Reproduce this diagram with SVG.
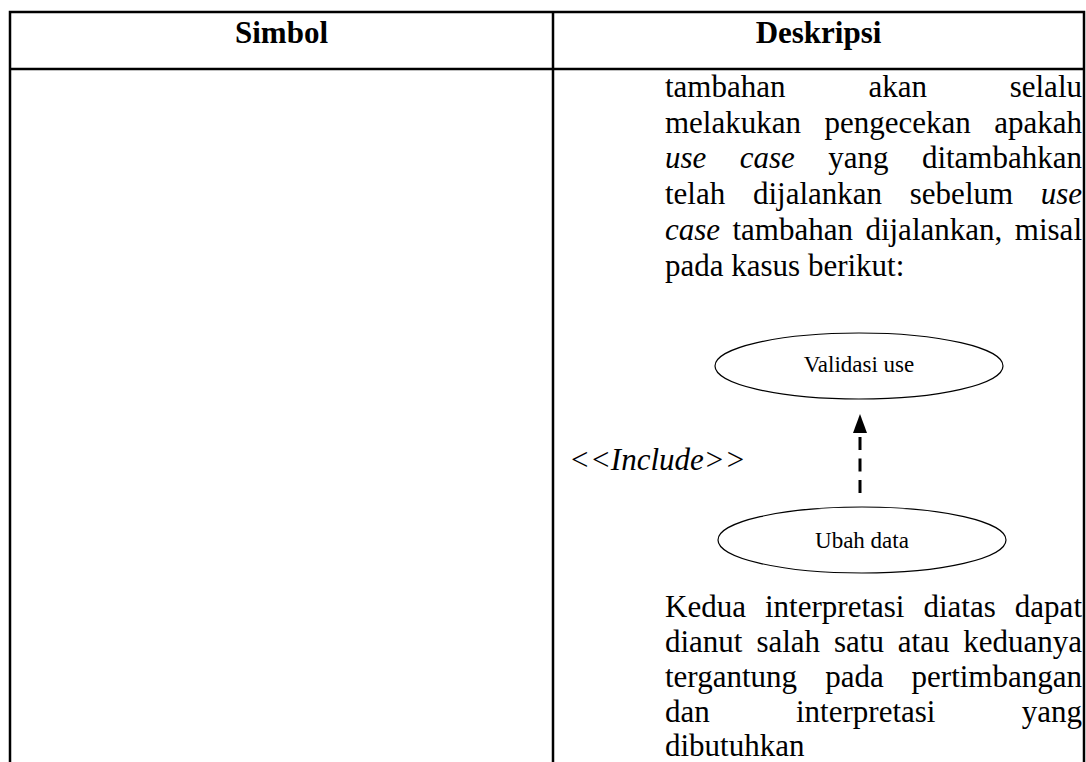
<svg xmlns="http://www.w3.org/2000/svg" width="1086" height="762" viewBox="0 0 1086 762">
<style>
.t{font-family:"Liberation Serif","Times New Roman",serif;font-size:31px;fill:#000}
.i{font-style:italic}
.e{text-anchor:end}
.h{font-weight:bold;text-anchor:middle}
.s{font-family:"Liberation Serif","Times New Roman",serif;font-size:23px;fill:#000;text-anchor:middle}
.b{stroke:#000;stroke-width:2.5;fill:none}
.el{fill:#fff;stroke:#000;stroke-width:1.2}
</style>
<rect width="1086" height="762" fill="#fff"/>
<g id="table">
<path class="b" d="M10 762 V12 H1084 V762 M10 69 H1084 M553 12 V762"/>
<text class="t h" x="281.5" y="43">Simbol</text>
<text class="t h" x="818.5" y="43">Deskripsi</text>
</g>
<g id="desc-top">
<text class="t" x="665" y="97">tambahan</text>
<text class="t" x="868.4" y="97">akan</text>
<text class="t e" x="1082" y="97">selalu</text>
<text class="t" x="665" y="132.7">melakukan</text>
<text class="t" x="824.5" y="132.7">pengecekan</text>
<text class="t e" x="1082" y="132.7">apakah</text>
<text class="t i" x="665" y="168.4">use</text>
<text class="t i" x="739.7" y="168.4">case</text>
<text class="t" x="828.2" y="168.4">yang</text>
<text class="t e" x="1082" y="168.4">ditambahkan</text>
<text class="t" x="665" y="204.1">telah</text>
<text class="t" x="753" y="204.1">dijalankan</text>
<text class="t" x="909.8" y="204.1">sebelum</text>
<text class="t i e" x="1082" y="204.1">use</text>
<text class="t i" x="665" y="239.8">case</text>
<text class="t" x="732.5" y="239.8">tambahan</text>
<text class="t" x="865.4" y="239.8">dijalankan,</text>
<text class="t e" x="1082" y="239.8">misal</text>
<text class="t" x="665" y="275.5">pada kasus berikut:</text>
</g>
<g id="validasi-use">
<ellipse class="el" cx="859" cy="366" rx="144" ry="33"/>
<text class="s" x="859" y="372">Validasi use</text>
</g>
<g id="ubah-data">
<ellipse class="el" cx="862" cy="540" rx="144" ry="33"/>
<text class="s" x="862" y="548">Ubah data</text>
</g>
<g id="connectors">
<line x1="860" y1="493" x2="860" y2="432" stroke="#000" stroke-width="3" stroke-dasharray="13 8.5"/>
<path d="M860 414 L867 433 L853 433 Z" fill="#000"/>
<text class="t i" x="569" y="470">&lt;&lt;Include&gt;&gt;</text>
</g>
<g id="desc-bottom">
<text class="t" x="665" y="617">Kedua</text>
<text class="t" x="765" y="617">interpretasi</text>
<text class="t" x="923.5" y="617">diatas</text>
<text class="t e" x="1082" y="617">dapat</text>
<text class="t" x="665" y="652">dianut</text>
<text class="t" x="756.4" y="652">salah</text>
<text class="t" x="834" y="652">satu</text>
<text class="t" x="897.8" y="652">atau</text>
<text class="t e" x="1082" y="652">keduanya</text>
<text class="t" x="665" y="687">tergantung</text>
<text class="t" x="825.3" y="687">pada</text>
<text class="t e" x="1082" y="687">pertimbangan</text>
<text class="t" x="665" y="722">dan</text>
<text class="t" x="796" y="722">interpretasi</text>
<text class="t e" x="1082" y="722">yang</text>
<text class="t" x="665" y="756">dibutuhkan</text>
</g>
</svg>
